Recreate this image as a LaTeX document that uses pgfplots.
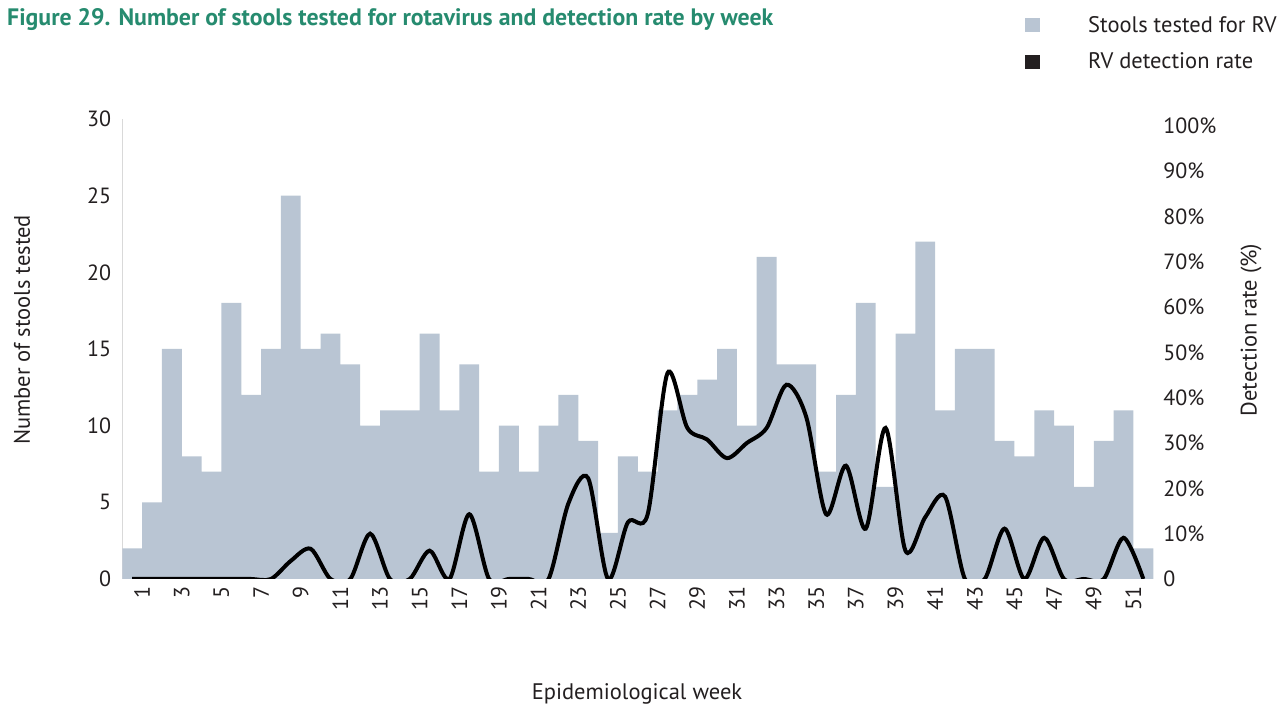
\documentclass[border=0pt]{standalone}
\usepackage{fontspec}
\setmainfont{PT Sans}
\usepackage{pgfplots}
\pgfplotsset{compat=1.18}
\usepackage{pgfplotstable}
\definecolor{barcol}{RGB}{185,197,211}
\definecolor{titlecol}{RGB}{38,139,111}
\definecolor{txt}{RGB}{35,31,32}
\definecolor{axcol}{RGB}{217,217,217}

\pgfplotstableread{
x n r
0.5 2 0
1.5 5 0
2.5 15 0
3.5 8 0
4.5 7 0
5.5 18 0
6.5 12 0
7.5 15 0
8.5 25 4
9.5 15 6.67
10.5 16 0
11.5 14 0
12.5 10 10
13.5 11 0
14.5 11 0
15.5 16 6.25
16.5 11 0
17.5 14 14.29
18.5 7 0
19.5 10 0
20.5 7 0
21.5 10 0
22.5 12 16.67
23.5 9 22.22
24.5 3 0
25.5 8 12.5
26.5 7 14.29
27.5 11 45.45
28.5 12 33.33
29.5 13 30.77
30.5 15 26.67
31.5 10 30
32.5 21 33.33
33.5 14 42.86
34.5 14 35.71
35.5 7 14.29
36.5 12 25
37.5 18 11.11
38.5 6 33.33
39.5 16 6.25
40.5 22 13.64
41.5 11 18.18
42.5 15 0
43.5 15 0
44.5 9 11.11
45.5 8 0
46.5 11 9.09
47.5 10 0
48.5 6 0
49.5 9 0
50.5 11 9.09
51.5 2 0
}\data

\begin{document}
\begin{tikzpicture}[x=1pt,y=1pt]
\path[use as bounding box] (0,0) rectangle (1277,707);
\pgfplotsset{
  common/.style={
    at={(122.3pt,128pt)}, anchor=south west, scale only axis,
    width=1031pt, height=460pt,
    xmin=0, xmax=52,
    major tick length=0pt,
    /pgf/number format/assume math mode=true,
    tick label style={font=\fontsize{22}{26}\selectfont, color=txt, inner sep=0pt},
    axis line style={color=axcol, line width=1pt},
  }
}
\begin{axis}[common,
  ymin=0, ymax=30,
  axis y line*=left, axis x line*=bottom,
  ytick={0,5,...,30},
  yticklabel shift=11pt,
  xtick={1,3,...,51},
  xticklabel style={rotate=90, anchor=east},
  xticklabel shift=7pt,
]
\addplot[ybar, bar width=1, bar shift=0pt, fill=barcol, draw=none] table[x=x,y=n]{\data};
\end{axis}
\begin{axis}[common,
  ymin=0, ymax=101.5,
  axis y line*=right, axis x line=none,
  y axis line style={draw=none},
  ytick={0,10,...,100},
  yticklabels={0,10\%,20\%,30\%,40\%,50\%,60\%,70\%,80\%,90\%,100\%},
  yticklabel style={anchor=west},
  yticklabel shift=10pt,
]
\addplot[color=black, line width=4pt, smooth, no markers] table[x=x,y=r]{\data};
\end{axis}
\node[rotate=90, font=\fontsize{22.5}{26}\selectfont, color=txt] at (22,377) {Number of stools tested};
\node[rotate=90, font=\fontsize{22.5}{26}\selectfont, color=txt] at (1251,377) {Detection rate (\%)};
\node[font=\fontsize{22.5}{26}\selectfont, color=txt] at (637,13) {Epidemiological week};
\node[anchor=base west, inner sep=0pt, font=\fontsize{23.8}{26}\selectfont\bfseries, color=titlecol] at (7,681) {Figure 29. Number of stools tested for rotavirus and detection rate by week};
\fill[barcol] (1025,675) rectangle (1040,689);
\node[anchor=west, inner sep=0pt, font=\fontsize{22.5}{26}\selectfont, color=txt] at (1088,682) {Stools tested for RV};
\fill[txt] (1025,638) rectangle (1040,652);
\node[anchor=west, inner sep=0pt, font=\fontsize{22.5}{26}\selectfont, color=txt] at (1088,646) {RV detection rate};
\end{tikzpicture}
\end{document}
